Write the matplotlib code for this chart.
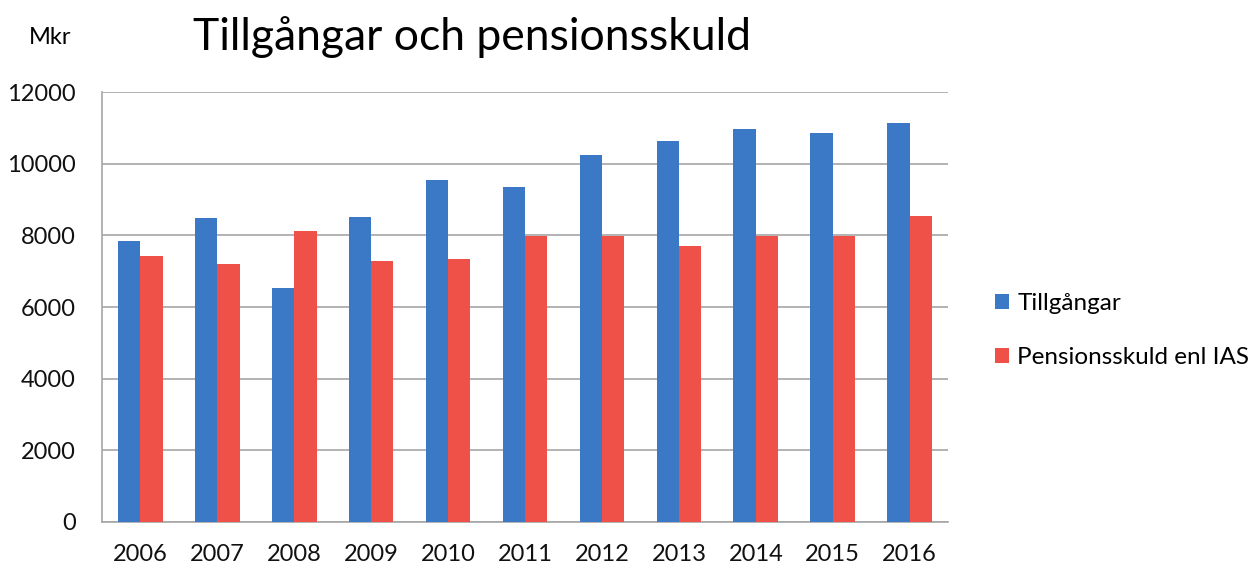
import numpy as np
import matplotlib
matplotlib.use("Agg")
import matplotlib.pyplot as plt

# Data
years = ["2006", "2007", "2008", "2009", "2010", "2011",
         "2012", "2013", "2014", "2015", "2016"]
tillgangar = [7850, 8480, 6540, 8520, 9550, 9340,
              10240, 10630, 10980, 10870, 11140]
pensionsskuld = [7420, 7190, 8120, 7280, 7350, 7990,
                 7990, 7700, 7990, 7990, 8530]
yticks = [0, 2000, 4000, 6000, 8000, 10000, 12000]

blue = "#3b78c6"
red = "#ef5048"
grid_col = "#a6a6a6"

plt.rcParams['font.family'] = ['Lato', 'DejaVu Sans']

fig = plt.figure(figsize=(12.48, 5.67), dpi=100)
ax = fig.add_axes([0.0817, 0.0794, 0.678, 0.7583])

x = np.arange(len(years))
w = 0.29
ax.bar(x - w / 2, tillgangar, w, color=blue, label="Tillgångar", zorder=3)
ax.bar(x + w / 2, pensionsskuld, w, color=red, label="Pensionsskuld enl IAS", zorder=3)

ax.set_xlim(-0.5, len(years) - 0.5)
ax.set_ylim(0, 12000)
ax.set_yticks(yticks)
ax.set_yticklabels([str(v) for v in yticks])
ax.set_xticks(x)
ax.set_xticklabels(years)
ax.tick_params(axis='both', length=0, labelsize=17, colors="#111111")
ax.tick_params(axis='y', pad=19)
ax.tick_params(axis='x', pad=16)

ax.yaxis.grid(True, color=grid_col, linewidth=1.2, zorder=0)
for s in ["top", "right"]:
    ax.spines[s].set_visible(False)
for s in ["left", "bottom"]:
    ax.spines[s].set_color(grid_col)
    ax.spines[s].set_linewidth(1.2)

# titel och enhet
fig.text(0.155, 0.935, "Tillgångar och pensionsskuld", fontsize=32, va="center", ha="left")
fig.text(0.023, 0.933, "Mkr", fontsize=17, va="center", ha="left")

ax.legend(loc="center left", bbox_to_anchor=(1.03, 0.445), frameon=False,
          fontsize=17.5, handlelength=0.55, handleheight=0.55, handletextpad=0.35,
          labelspacing=1.35)

fig.savefig("out.png", dpi=100)
